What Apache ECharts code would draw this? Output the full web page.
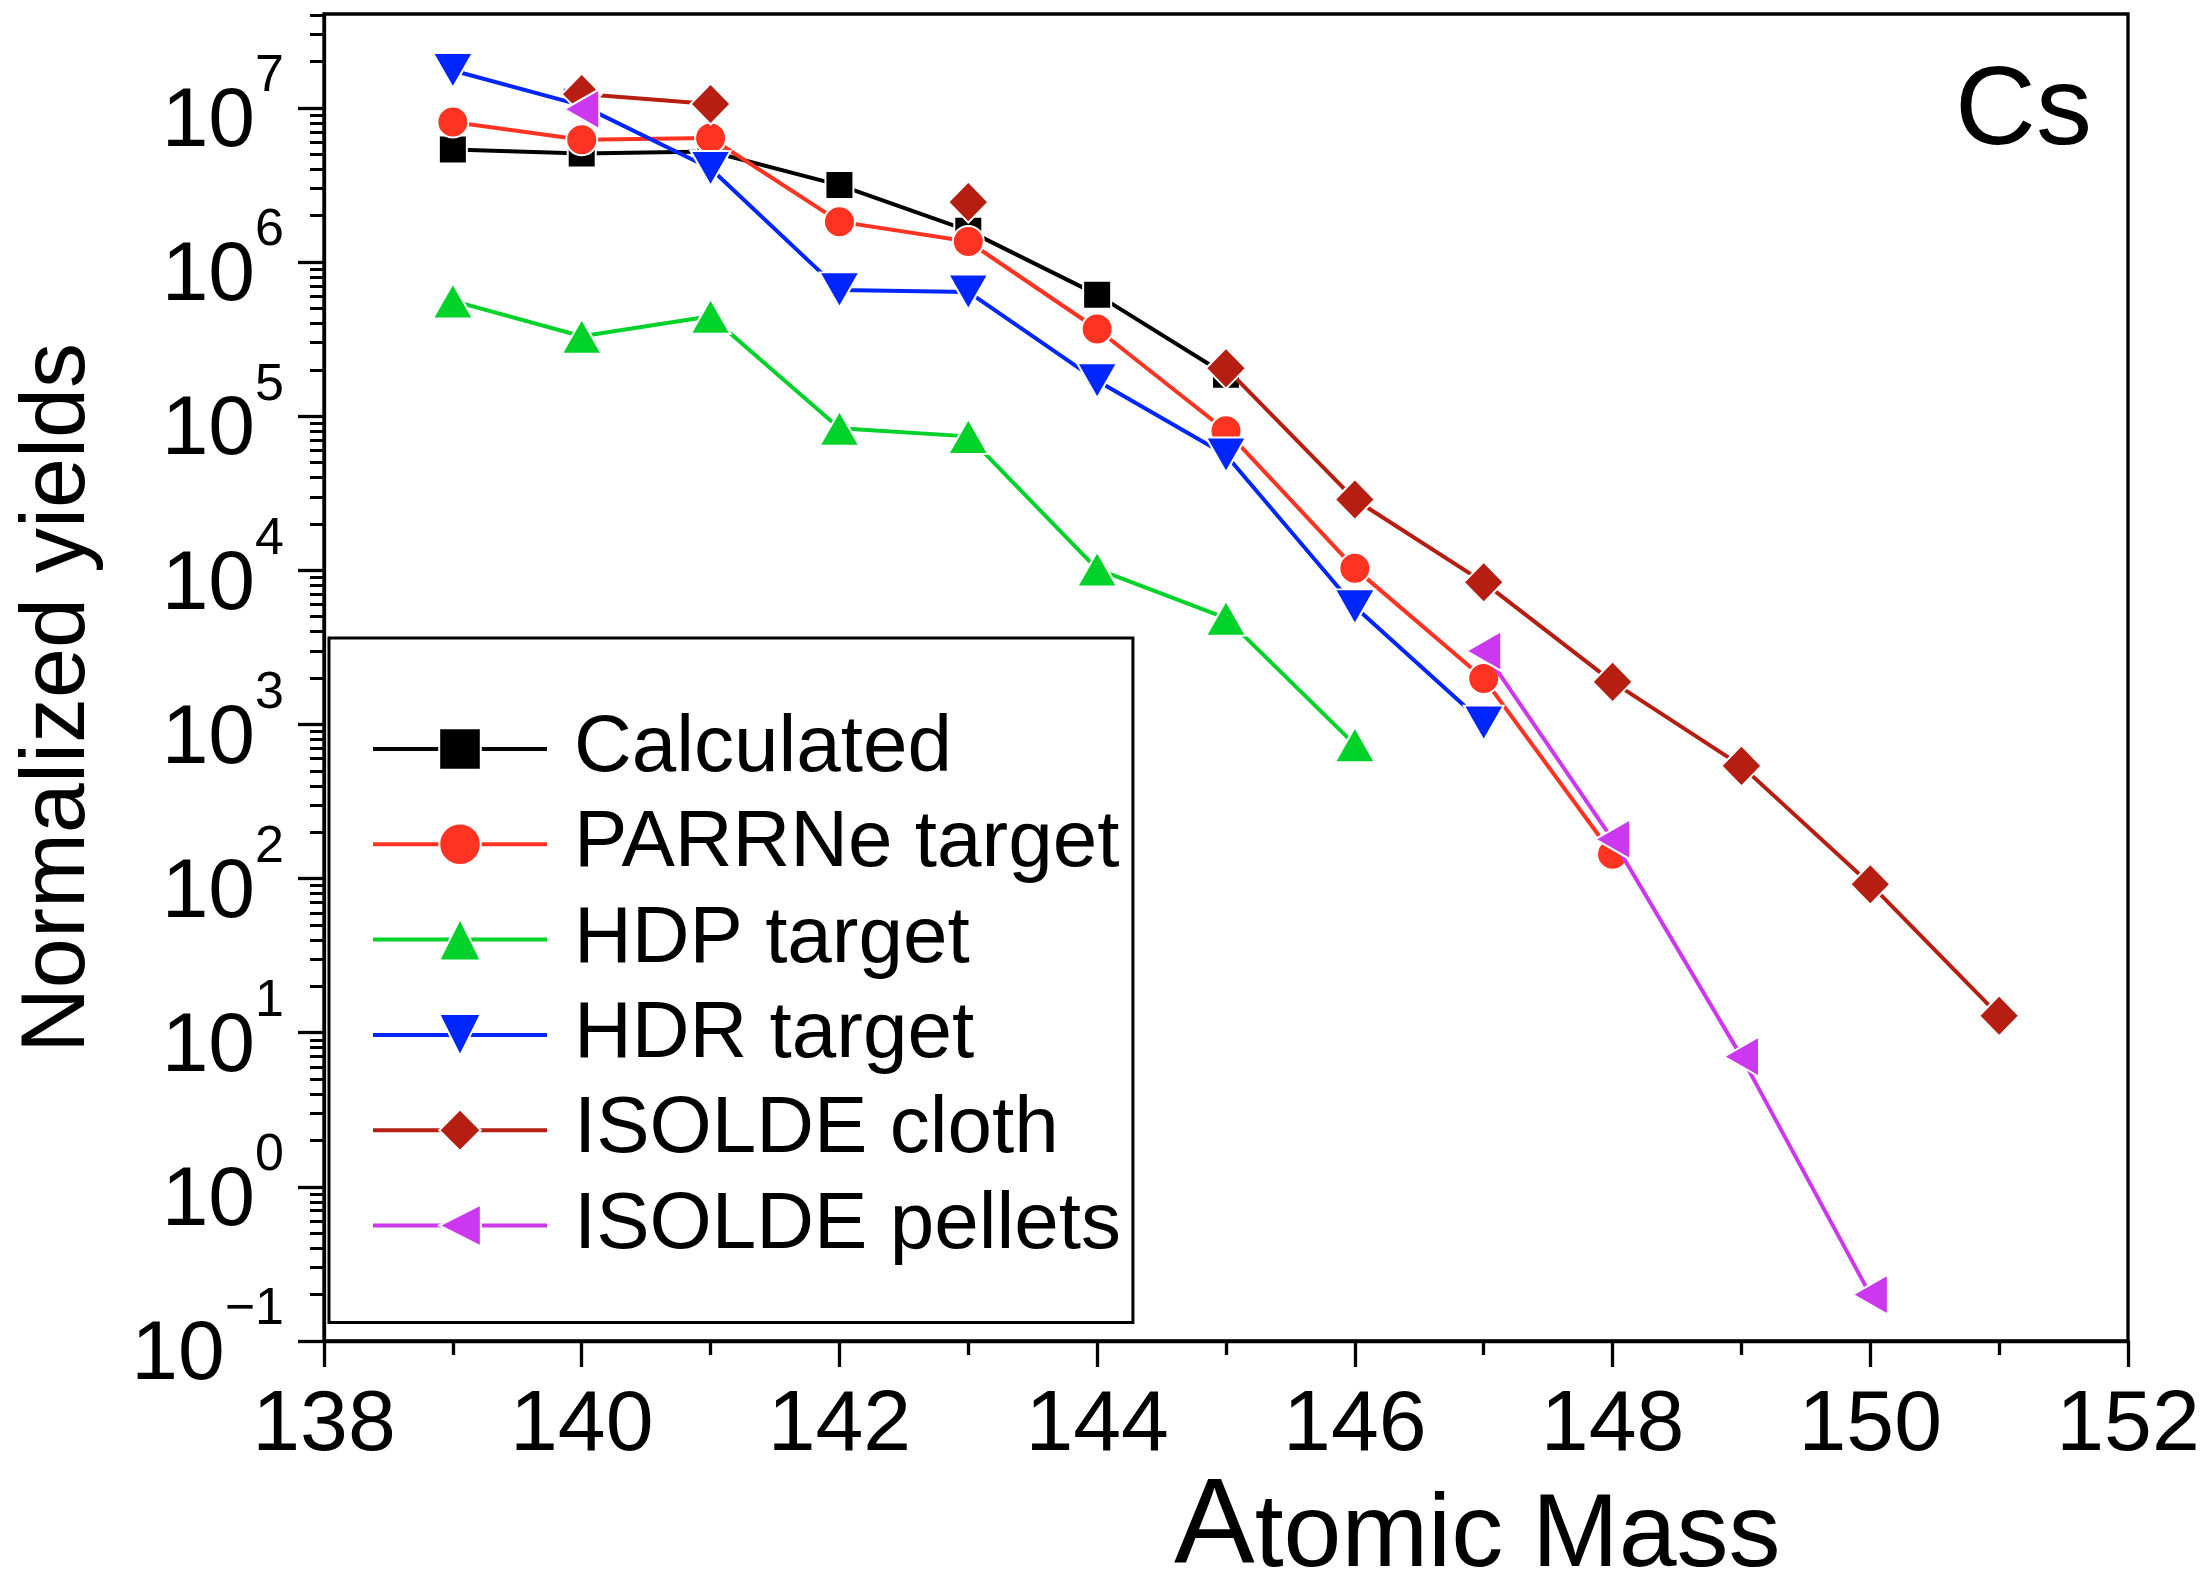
<!DOCTYPE html>
<html><head><meta charset="utf-8">
<script src="https://cdn.jsdelivr.net/npm/echarts@6/dist/echarts.min.js"></script>
<style>html,body{margin:0;padding:0;background:#fff}#c{width:2209px;height:1582px}</style>
</head><body><div id="c"></div>
<script>
// ---- data ----
const masses        = [139, 140, 141, 142, 143, 144, 145, 146, 147, 148, 149, 150, 151];
const calculated    = [5.38e6, 5.07e6, 5.22e6, 3.16e6, 1.6e6, 6.15e5, 1.86e5, null, null, null, null, null, null];
const parrne        = [8.1e6, 6.22e6, 6.38e6, 1.83e6, 1.36e6, 3.68e5, 8.05e4, 1.03e4, 1.99e3, 144, null, null, null];
const hdp           = [5.6e5, 3.3e5, 4.45e5, 8.35e4, 7.4e4, 1.02e4, 4.9e3, 740, null, null, null, null, null];
const hdr           = [1.75e7, 1.04e7, 4.05e6, 6.6e5, 6.4e5, 1.7e5, 5.6e4, 5.8e3, 1.02e3, null, null, null, null];
const isoldeCloth   = [null, 1.23e7, 1.06e7, null, 2.45e6, null, 2.05e5, 2.88e4, 8.36e3, 1.89e3, 539, 92, 12.9];
const isoldePellets = [null, 9.8e6, null, null, null, null, null, null, 3.0e3, 180, 7.0, 0.2, null];
const seriesNames   = ['Calculated', 'PARRNe target', 'HDP target', 'HDR target', 'ISOLDE cloth', 'ISOLDE pellets'];
const yTickValues   = [0.1, 1, 10, 100, 1e3, 1e4, 1e5, 1e6, 1e7];
const xTickLabels   = [138, 140, 142, 144, 146, 148, 150, 152];

const FONT = "'Liberation Sans', Arial, Helvetica, sans-serif";

function toPairs(vals) {
  return masses.map((m, i) => [m, vals[i] == null ? '-' : vals[i]]);
}

const styles = [
  { color: '#000000', symbol: 'rect', size: 28, rotate: 0 },
  { color: '#ff3322', symbol: 'circle', size: 31, rotate: 0 },
  { color: '#00d22a', symbol: 'triangle', size: [40, 35], rotate: 0 },
  { color: '#0026ff', symbol: 'triangle', size: [40, 35], rotate: 180 },
  { color: '#b51e10', symbol: 'diamond', size: [40, 41], rotate: 0 },
  { color: '#cc38f0', symbol: 'triangle', size: [40, 35], rotate: 90 }
];
const allVals = [calculated, parrne, hdp, hdr, isoldeCloth, isoldePellets];

const series = seriesNames.map((name, k) => ({
  name: name,
  type: 'line',
  data: toPairs(allVals[k]),
  connectNulls: false,
  symbol: styles[k].symbol,
  symbolSize: styles[k].size,
  symbolRotate: styles[k].rotate,
  showAllSymbol: true,
  lineStyle: { color: styles[k].color, width: 4 },
  itemStyle: { color: styles[k].color, borderColor: '#ffffff', borderWidth: 2 },
  emphasis: { disabled: true },
  z: 2 + k
}));

function supLabel(v) {
  const e = Math.round(Math.log10(v));
  const s = e < 0 ? '\u2212' + (-e) : String(e);
  return '{b|10}{s|' + s + '}';
}

const chart = echarts.init(document.getElementById('c'), null, { renderer: 'canvas' });
chart.setOption({
  animation: false,
  backgroundColor: '#ffffff',
  grid: { left: 324, right: 81, top: 14, bottom: 241, show: true, borderColor: '#000', borderWidth: 3.3, containLabel: false },
  xAxis: {
    type: 'value', min: 138, max: 152, interval: 2,
    axisLine: { show: true, lineStyle: { color: '#000', width: 3.3 } },
    axisTick: { show: true, inside: false, length: 26, lineStyle: { color: '#000', width: 3.3 } },
    minorTick: { show: true, splitNumber: 2, length: 14, lineStyle: { color: '#000', width: 3.3 } },
    splitLine: { show: false },
    axisLabel: {
      margin: 42, color: '#000', fontFamily: FONT, fontSize: 86, lineHeight: 86,
      customValues: xTickLabels,
      formatter: v => String(v)
    }
  },
  yAxis: {
    type: 'log', logBase: 10, min: 0.1, max: 4.07e7,
    axisLine: { show: true, lineStyle: { color: '#000', width: 3.3 } },
    axisTick: { show: true, inside: false, length: 26, customValues: yTickValues, lineStyle: { color: '#000', width: 3.3 } },
    minorTick: { show: true, splitNumber: 9, length: 14, lineStyle: { color: '#000', width: 3 } },
    splitLine: { show: false },
    axisLabel: {
      margin: 40, color: '#000',
      customValues: yTickValues,
      formatter: v => supLabel(v),
      rich: {
        b: { fontFamily: FONT, fontSize: 84, lineHeight: 114, verticalAlign: 'bottom', color: '#000' },
        s: { fontFamily: FONT, fontSize: 52, lineHeight: 52, verticalAlign: 'top', color: '#000' }
      }
    }
  },
  legend: {
    orient: 'vertical', left: 329, top: 638,
    padding: [71, 12, 57, 42],
    itemWidth: 174, itemHeight: 52, itemGap: 15.3,
    borderColor: '#000', borderWidth: 3, backgroundColor: '#ffffff',
    selectedMode: false,
    lineStyle: { width: 4 },
    textStyle: { fontFamily: FONT, fontSize: 80, color: '#000', padding: [0, 0, 0, 22] },
    data: seriesNames
  },
  title: [
    {
      text: '{a|A}{b|tomic Mass}', left: 1174, top: 1468, padding: 0,
      textStyle: {
        fontWeight: 'normal',
        rich: {
          a: { fontFamily: FONT, fontSize: 121, lineHeight: 121, verticalAlign: 'bottom', color: '#000', fontWeight: 'normal' },
          b: { fontFamily: FONT, fontSize: 104, lineHeight: 104, verticalAlign: 'bottom', color: '#000', fontWeight: 'normal' }
        }
      }
    },
    {
      text: 'Cs', left: 1955, top: 57, padding: 0,
      textStyle: { fontFamily: FONT, fontSize: 112, lineHeight: 112, fontWeight: 'normal', color: '#000' }
    }
  ],
  graphic: [
    {
      type: 'text', x: 59, y: 698, rotation: Math.PI / 2,
      style: { text: 'Normalized yields', fontFamily: FONT, fontSize: 90, fill: '#000', align: 'center', verticalAlign: 'middle' }
    }
  ],
  series: series
});
</script>
</body></html>
